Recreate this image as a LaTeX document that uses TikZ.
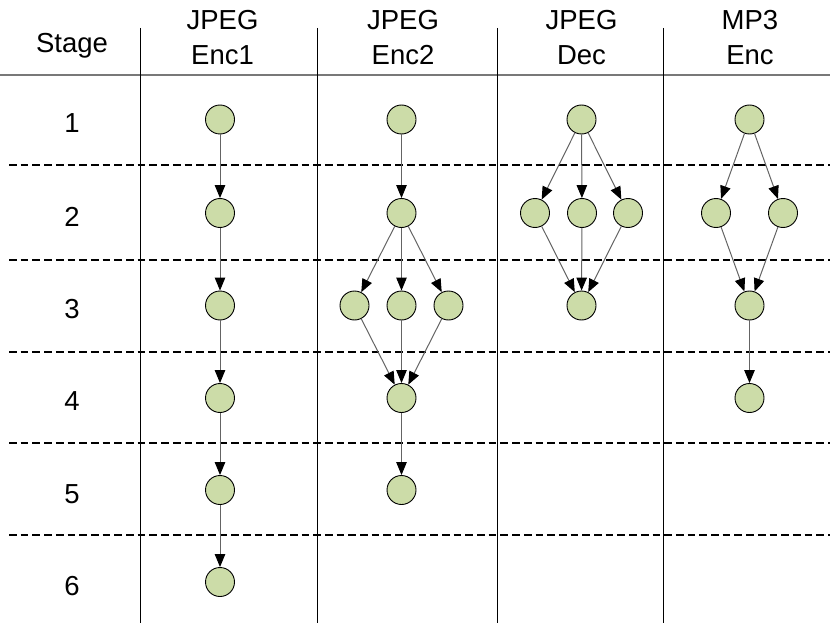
\documentclass[tikz,border=0pt]{standalone}
\usepackage{fontspec}
\setmainfont{Liberation Sans}
\usetikzlibrary{arrows.meta}
\definecolor{nodefill}{RGB}{204,220,168}
\definecolor{edgegray}{RGB}{100,100,100}
\definecolor{rulegray}{RGB}{120,120,120}
\begin{document}
\begin{tikzpicture}[x=1pt,y=-1pt,
  task/.style={circle,draw=black,line width=0.9pt,fill=nodefill,minimum size=29pt,inner sep=0pt},
  dep/.style={draw=edgegray,line width=1pt,-{Triangle[length=13pt,width=10.5pt,color=black]}},
  lbl/.style={font=\fontsize{27.5}{36}\selectfont,anchor=base,inner sep=0pt},
  sep/.style={draw=black,line width=1.6pt,dash pattern=on 7.7pt off 4pt},
  col/.style={draw=black,line width=1pt},
  headrule/.style={draw=rulegray,line width=2pt}]
\useasboundingbox (0,0) rectangle (830,623);
% header
\node[lbl] (hs) at (72,53) {Stage};
\node[lbl] (h1a) at (222.5,30) {JPEG};
\node[lbl] (h1b) at (222.5,65) {Enc1};
\node[lbl] (h2a) at (403,30) {JPEG};
\node[lbl] (h2b) at (403,65) {Enc2};
\node[lbl] (h3a) at (581.5,30) {JPEG};
\node[lbl] (h3b) at (581.5,65) {Dec};
\node[lbl] (h4a) at (750,30) {MP3};
\node[lbl] (h4b) at (750,65) {Enc};
% grid
\coordinate (hl) at (0,74.7); \coordinate (hr) at (830,74.7);
\draw[headrule] (hl) -- (hr);
\foreach \x [count=\i] in {140,317,497,663}{
  \coordinate (vt\i) at (\x,28); \coordinate (vb\i) at (\x,623);
  \draw[col] (vt\i) -- (vb\i);
}
\foreach \y [count=\i] in {165,260,352,443,535}{
  \coordinate (dl\i) at (9,\y); \coordinate (dr\i) at (830,\y);
  \draw[sep] (dl\i) -- (dr\i);
}
% stage numbers
\foreach \y [count=\i] in {133,226,318,410,503,595}{
  \node[lbl] (s\i) at (72,\y) {\i};
}
% JPEG Enc1
\foreach \y [count=\i] in {119.5,213,305.5,398,490,582}{
  \node[task] (a\i) at (220,\y) {};
}
\foreach \i [evaluate=\i as \j using int(\i+1)] in {1,...,5}{
  \draw[dep] (a\i) -- (a\j);
}
% JPEG Enc2
\node[task] (b1) at (401.5,119.5) {};
\node[task] (b2) at (401.5,213) {};
\node[task] (b3l) at (354.5,305.5) {};
\node[task] (b3m) at (401.5,305.5) {};
\node[task] (b3r) at (448.5,305.5) {};
\node[task] (b4) at (401.5,398) {};
\node[task] (b5) at (401.5,490) {};
\draw[dep] (b1) -- (b2);
\draw[dep] (b2) -- (b3l);
\draw[dep] (b2) -- (b3m);
\draw[dep] (b2) -- (b3r);
\draw[dep] (b3l) -- (b4);
\draw[dep] (b3m) -- (b4);
\draw[dep] (b3r) -- (b4);
\draw[dep] (b4) -- (b5);
% JPEG Dec
\node[task] (c1) at (581.5,119.5) {};
\node[task] (c2l) at (535,213) {};
\node[task] (c2m) at (582,213) {};
\node[task] (c2r) at (628,213) {};
\node[task] (c3) at (581.5,305.5) {};
\draw[dep] (c1) -- (c2l);
\draw[dep] (c1) -- (c2m);
\draw[dep] (c1) -- (c2r);
\draw[dep] (c2l) -- (c3);
\draw[dep] (c2m) -- (c3);
\draw[dep] (c2r) -- (c3);
% MP3 Enc
\node[task] (d1) at (749.5,119.5) {};
\node[task] (d2l) at (716,213) {};
\node[task] (d2r) at (783,213) {};
\node[task] (d3) at (749.5,305.5) {};
\node[task] (d4) at (749.5,398) {};
\draw[dep] (d1) -- (d2l);
\draw[dep] (d1) -- (d2r);
\draw[dep] (d2l) -- (d3);
\draw[dep] (d2r) -- (d3);
\draw[dep] (d3) -- (d4);
\end{tikzpicture}
\end{document}
